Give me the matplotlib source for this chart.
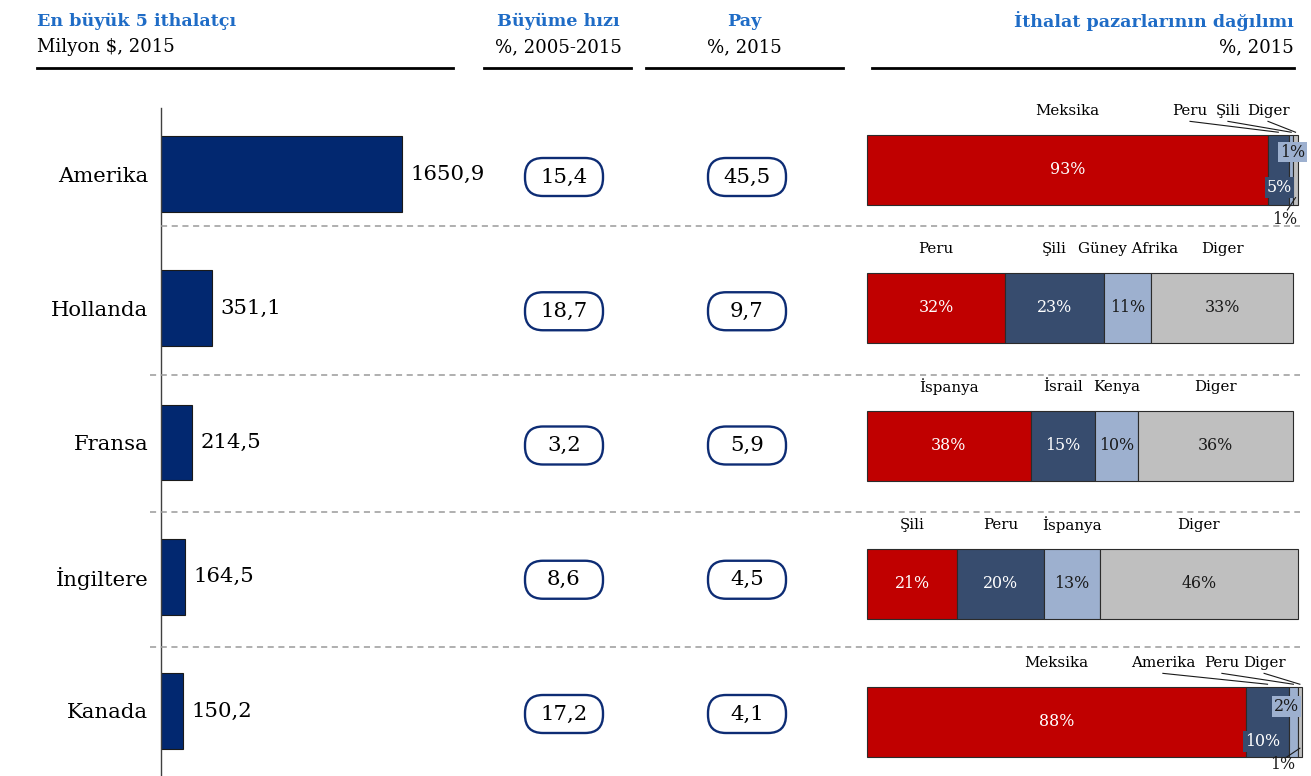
import matplotlib
matplotlib.use("Agg")
import matplotlib.pyplot as plt
from matplotlib.patches import FancyBboxPatch
from matplotlib.lines import Line2D

plt.rcParams['font.family'] = ['DejaVu Serif']

# data
countries = ["Amerika", "Hollanda", "Fransa", "İngiltere", "Kanada"]
imports = [1650.9, 351.1, 214.5, 164.5, 150.2]      # Milyon $, 2015
growth = [15.4, 18.7, 3.2, 8.6, 17.2]               # %, 2005-2015
share = [45.5, 9.7, 5.9, 4.5, 4.1]                  # %, 2015
partners = [
    ["Meksika", "Peru", "Şili", "Diger"],
    ["Peru", "Şili", "Güney Afrika", "Diger"],
    ["İspanya", "İsrail", "Kenya", "Diger"],
    ["Şili", "Peru", "İspanya", "Diger"],
    ["Meksika", "Amerika", "Peru", "Diger"],
]
partner_pct = [
    [93, 5, 1, 1],
    [32, 23, 11, 33],
    [38, 15, 10, 36],
    [21, 20, 13, 46],
    [88, 10, 2, 1],
]

# layout / style
W, H = 1311, 776
BLUE = '#1F6CC6'
NAVY = '#022870'
PILL = '#0D2C74'
seg_colors = ['#C00000', '#374C6E', '#9DB0CF', '#BFBFBF']
txt_colors = ['white', 'white', '#1a1a1a', '#1a1a1a']
BODY = 15.3
# where names of tiny segments go (x in %), for Amerika and Kanada rows
callout_x = {0: [75.0, 83.8, 93.1], 4: [68.7, 82.4, 92.2]}
# tiny percentage labels: (x in %, y offset in rows, boxed?)
small_pct = {
    0: [(95.7, 0.125, True), (98.9, -0.13, True), (97.0, 0.36, False)],
    4: [(91.9, 0.14, True), (97.3, -0.11, True), (96.4, 0.31, False)],
}
leader_below = {0: (99.5, 0.2, 97.6, 0.29), 4: (100.5, 0.19, 97.4, 0.255)}


def rect(x0, y0, x1, y1):
    return [x0 / W, 1 - y1 / H, (x1 - x0) / W, (y1 - y0) / H]


def fx(x):
    return x / W


def fy(y):
    return 1 - y / H


def fmt(v):
    return f"{v:.1f}".replace('.', ',')


fig = plt.figure(figsize=(W / 100, H / 100), dpi=100)

# headers
headers = [
    (37, 'left', "En büyük 5 ithalatçı", "Milyon $, 2015"),
    (558, 'center', "Büyüme hızı", "%, 2005-2015"),
    (744, 'center', "Pay", "%, 2015"),
    (1294, 'right', "İthalat pazarlarının dağılımı", "%, 2015"),
]
for x, ha, title, sub in headers:
    fig.text(fx(x), fy(21), title, color=BLUE, fontsize=12.6,
             fontweight='bold', ha=ha, va='center')
    fig.text(fx(x), fy(47), sub, fontsize=13.1, ha=ha, va='center')
for x0, x1 in [(37, 453), (484, 631), (646, 843), (872, 1294)]:
    fig.add_artist(Line2D([fx(x0), fx(x1)], [fy(68), fy(68)], color='black', lw=2))

# dashed separators
for k, y in enumerate([226, 375, 512, 647]):
    x0 = 161 if k == 0 else 150
    fig.add_artist(Line2D([fx(x0), fx(1300)], [fy(y), fy(y)], color='#9a9a9a',
                          lw=1.1, linestyle=(0, (4, 3))))

# left: import bars
row_px = 134.25
ax_l = fig.add_axes(rect(161, 108, 481, 776))
ax_l.barh(range(len(countries)), imports, height=0.566, color=NAVY,
          edgecolor='#1a1a1a', linewidth=0.8)
ax_l.set_xlim(0, 2190)
ax_l.set_ylim((776 - 174) / row_px, (108 - 174) / row_px)
for i, v in enumerate(imports):
    ax_l.annotate(fmt(v), (v, i), xytext=(6, 0), textcoords='offset points',
                  ha='left', va='center', fontsize=BODY)
ax_l.set_yticks(range(len(countries)), countries, fontsize=BODY)
ax_l.tick_params(axis='y', length=0, pad=9)
ax_l.set_xticks([])
for s in ['top', 'right', 'bottom']:
    ax_l.spines[s].set_visible(False)
ax_l.spines['left'].set_color('#404040')
ax_l.spines['left'].set_linewidth(1)
ax_l.set_facecolor('none')

# middle: pills (x in pixels)
ax_m = fig.add_axes(rect(485, 108, 797, 776))
ax_m.set_xlim(485, 797)
ax_m.set_ylim(ax_l.get_ylim())
ax_m.axis('off')
ph = 38 / row_px
for i in range(len(countries)):
    yc = i + 3 / row_px
    for cx, val in [(564, growth[i]), (747, share[i])]:
        ax_m.add_patch(FancyBboxPatch((cx - 39, yc - ph / 2), 78, ph,
                                      boxstyle="round,pad=0,rounding_size=18",
                                      mutation_aspect=1 / row_px,
                                      facecolor='white', edgecolor=PILL, lw=1.7))
        ax_m.text(cx, yc, fmt(val), ha='center', va='center', fontsize=BODY)

# right: stacked distribution
seg_px = 138
ax_r = fig.add_axes(rect(867, 90, 1302, 776))
ax_r.set_xlim(0, 101)
ax_r.set_ylim((776 - 170) / seg_px, (90 - 170) / seg_px)
ax_r.axis('off')
bh = 70 / seg_px
name_dy = 59 / seg_px
for i, (names, pcts) in enumerate(zip(partners, partner_pct)):
    left = 0
    for j, (nm, p) in enumerate(zip(names, pcts)):
        ax_r.barh(i, p, left=left, height=bh, color=seg_colors[j],
                  edgecolor='#2b2b2b', linewidth=0.8, clip_on=False)
        mid = left + p / 2
        if i in callout_x and j > 0:
            lx = callout_x[i][j - 1]
            ax_r.text(lx, i - name_dy, nm, ha='center', va='center', fontsize=10.8)
            ax_r.plot([lx, mid], [i - name_dy + 0.075, i - bh / 2 - 0.02],
                      color='#1a1a1a', lw=0.8, clip_on=False)
            sx, sdy, boxed = small_pct[i][j - 1]
            kw = {}
            if boxed:
                kw['bbox'] = dict(boxstyle='square,pad=0.12', fc=seg_colors[j], ec='none')
            ax_r.text(sx, i + sdy, f"{p}%", ha='center', va='center', fontsize=11.4,
                      color=txt_colors[j] if boxed else '#1a1a1a', clip_on=False, **kw)
        else:
            ax_r.text(mid, i - name_dy, nm, ha='center', va='center', fontsize=10.8)
            ax_r.text(mid, i, f"{p}%", ha='center', va='center', fontsize=11.4,
                      color=txt_colors[j])
        left += p
    if i in leader_below:
        x0, y0, x1, y1 = leader_below[i]
        ax_r.plot([x0, x1], [i + y0, i + y1], color='#1a1a1a', lw=0.8, clip_on=False)

fig.savefig("out.png", dpi=100)
